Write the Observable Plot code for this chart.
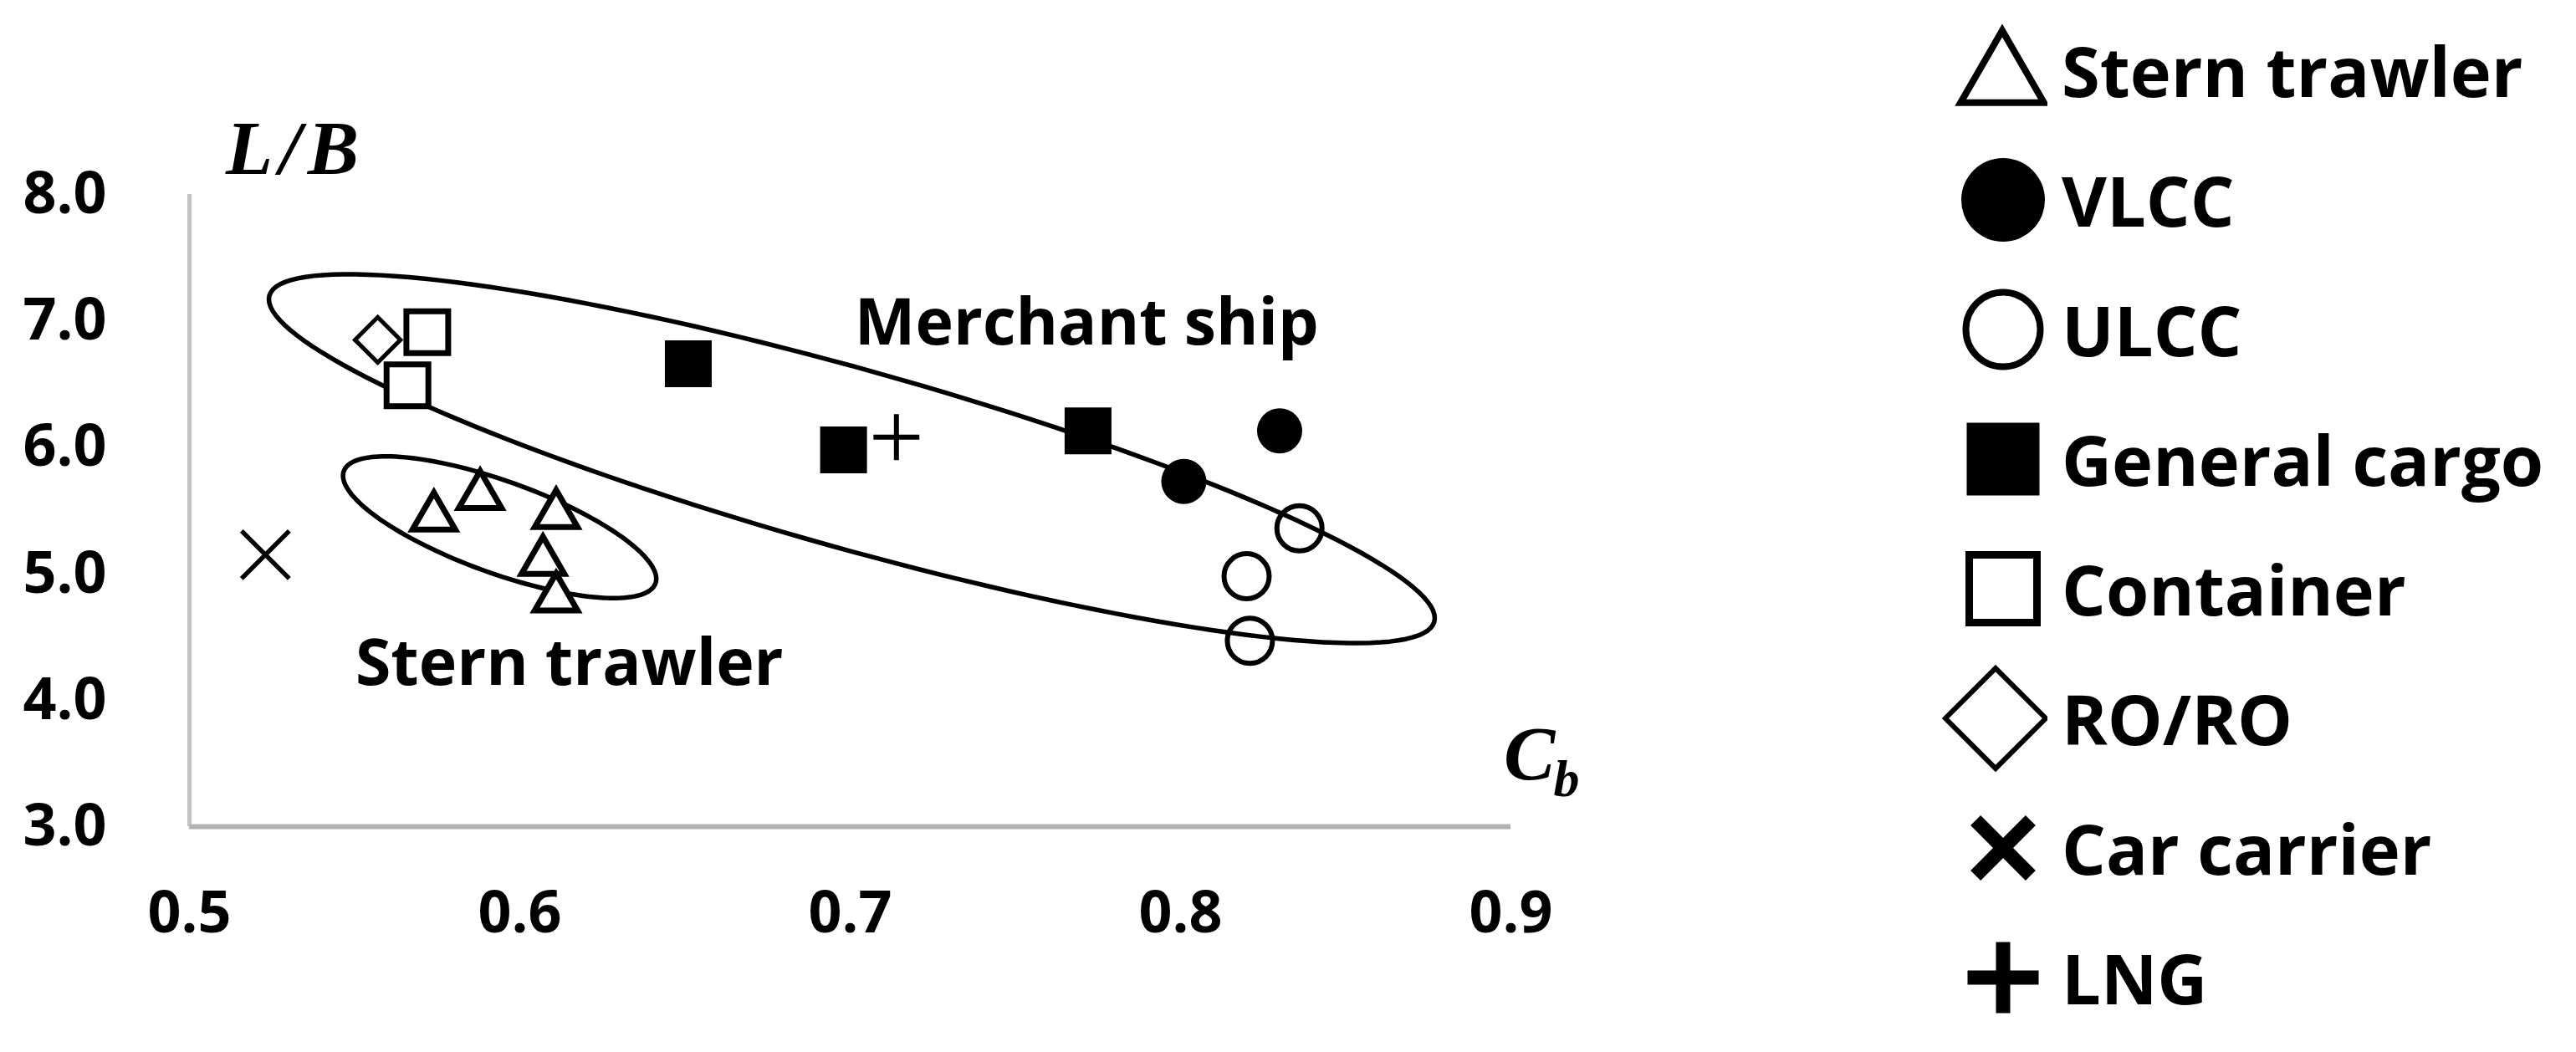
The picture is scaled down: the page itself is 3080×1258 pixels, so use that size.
<!DOCTYPE html>
<html>
<head>
<meta charset="utf-8">
<script src="https://cdn.jsdelivr.net/npm/d3@7"></script>
<script src="https://cdn.jsdelivr.net/npm/@observablehq/plot@0.6"></script>
<style>
  html, body { margin: 0; padding: 0; background: #fff; }
  #wrap { position: relative; width: 3080px; height: 1258px; background: #fff; font-family: "Open Sans", sans-serif; }
  #chart { position: absolute; left: 0; top: 0; }
  #legend { position: absolute; left: 2318px; top: 6px; }
  .row { height: 155px; display: flex; align-items: center; }
  .row svg { width: 130px; height: 130px; flex: none; }
  .row span { margin-left: 17px; font-size: 83px; font-weight: 700; color: #000; line-height: 1; white-space: nowrap; }
</style>
</head>
<body>
<div id="wrap"><div id="chart"></div><div id="legend"></div></div>
<script>
// ---------- data ----------
const xTicks = [0.5, 0.6, 0.7, 0.8, 0.9];
const yTicks = [3, 4, 5, 6, 7, 8];

const sternTrawlerCb = [0.574, 0.588, 0.611, 0.607, 0.611];
const sternTrawlerLB = [5.50, 5.67, 5.52, 5.15, 4.86];
const vlccCb = [0.801, 0.830];
const vlccLB = [5.73, 6.13];
const ulccCb = [0.836, 0.820, 0.821];
const ulccLB = [5.36, 4.98, 4.47];
const generalCargoCb = [0.651, 0.698, 0.772];
const generalCargoLB = [6.66, 5.98, 6.13];
const containerCb = [0.572, 0.566];
const containerLB = [6.91, 6.49];
const roroCb = [0.557];
const roroLB = [6.85];
const carCarrierCb = [0.523];
const carCarrierLB = [5.15];
const lngCb = [0.714];
const lngLB = [6.08];

// group ellipses: centre, major half-axis vector, minor half-axis vector (data units)
const groupNames = ["Merchant ship", "Stern trawler"];
const groupCenterCb = [0.7005, 0.5939];
const groupCenterLB = [5.910, 5.368];
const groupMajorCb = [0.1763, 0.04717];
const groupMajorLB = [-1.290, -0.4438];
const groupMinorCb = [-0.00732, -0.00472];
const groupMinorLB = [-0.681, -0.3426];
const groupLabelCb = [0.7716, 0.615];
const groupLabelLB = [6.975, 4.283];

const legendNames = ["Stern trawler", "VLCC", "ULCC", "General cargo", "Container", "RO/RO", "Car carrier", "LNG"];

// ---------- build tables ----------
const rows = (cb, lb) => cb.map((v, i) => ({cb: v, lb: lb[i]}));
const ellipsePts = [];
groupNames.forEach((name, g) => {
  const n = 160;
  for (let k = 0; k < n; k++) {
    const t = 2 * Math.PI * k / n;
    ellipsePts.push({
      name,
      cb: groupCenterCb[g] + groupMajorCb[g] * Math.cos(t) + groupMinorCb[g] * Math.sin(t),
      lb: groupCenterLB[g] + groupMajorLB[g] * Math.cos(t) + groupMinorLB[g] * Math.sin(t)
    });
  }
});
const groupLabels = groupNames.map((t, i) => ({text: t, cb: groupLabelCb[i], lb: groupLabelLB[i]}));

const fmt = d3.format(".1f");
const plot = Plot.plot({
  width: 2300,
  height: 1258,
  marginLeft: 226,
  marginRight: 494,
  marginTop: 232,
  marginBottom: 270,
  style: {fontFamily: "'Open Sans', sans-serif", color: "#000", background: "transparent"},
  x: {domain: [0.5, 0.9]},
  y: {domain: [3, 8]},
  marks: [
    Plot.ruleX([0.5], {stroke: "#c2c2c2", strokeWidth: 5}),
    Plot.ruleY([3], {stroke: "#b3b3b3", strokeWidth: 6}),
    Plot.axisX({ticks: xTicks, tickSize: 0, tickPadding: 77, tickFormat: fmt, fontSize: 70, fontWeight: 700, label: null}),
    Plot.axisY({ticks: yTicks, tickSize: 0, tickPadding: 99, tickFormat: fmt, fontSize: 70, fontWeight: 700, label: null}),
    Plot.line(ellipsePts, {x: "cb", y: "lb", z: "name", curve: "linear-closed", stroke: "#000", strokeWidth: 5.5}),
    Plot.dot(rows(sternTrawlerCb, sternTrawlerLB), {x: "cb", y: "lb", symbol: "triangle", r: 19, dy: 8, fill: "#fff", stroke: "#000", strokeWidth: 7}),
    Plot.dot(rows(containerCb, containerLB), {x: "cb", y: "lb", symbol: "square", r: 28.2, fill: "#fff", stroke: "#000", strokeWidth: 7}),
    Plot.dot(rows(roroCb, roroLB), {x: "cb", y: "lb", symbol: "diamond2", r: 24.5, fill: "#fff", stroke: "#000", strokeWidth: 5}),
    Plot.dot(rows(carCarrierCb, carCarrierLB), {x: "cb", y: "lb", symbol: "times", r: 26, stroke: "#000", strokeWidth: 5.5}),
    Plot.dot(rows(generalCargoCb, generalCargoLB), {x: "cb", y: "lb", symbol: "square", r: 31.6, fill: "#000", stroke: "none"}),
    Plot.dot(rows(lngCb, lngLB), {x: "cb", y: "lb", symbol: "plus", r: 17.7, stroke: "#000", strokeWidth: 6}),
    Plot.dot(rows(vlccCb, vlccLB), {x: "cb", y: "lb", symbol: "circle", r: 27, fill: "#000", stroke: "none"}),
    Plot.dot(rows(ulccCb, ulccLB), {x: "cb", y: "lb", symbol: "circle", r: 27, fill: "none", stroke: "#000", strokeWidth: 6}),
    Plot.text(groupLabels, {x: "cb", y: "lb", text: "text", fontSize: 77, fontWeight: 700, fill: "#000"})
  ]
});
document.getElementById("chart").appendChild(plot);

// axis titles (math italic) placed with the plot's scales
const sx = plot.scale("x"), sy = plot.scale("y");
const svg = d3.select(plot);
svg.append("text")
  .attr("x", sx.apply(0.5) + 44).attr("y", sy.apply(8) - 24)
  .attr("text-anchor", "start")
  .attr("font-family", "'Liberation Serif', 'DejaVu Serif', serif")
  .attr("font-style", "italic").attr("font-weight", 700).attr("font-size", 92)
  .attr("letter-spacing", 8).attr("fill", "#000")
  .text("L/B");
const cb = svg.append("text")
  .attr("x", sx.apply(0.9) - 8).attr("y", sy.apply(3) - 56)
  .attr("text-anchor", "start")
  .attr("font-family", "'Liberation Serif', 'DejaVu Serif', serif")
  .attr("font-style", "italic").attr("font-weight", 700).attr("font-size", 92)
  .attr("fill", "#000");
cb.append("tspan").text("C");
cb.append("tspan").attr("font-size", 62).attr("dx", -2).attr("dy", 20).text("b");

// legend
const legendStyle = [
  {type: d3.symbolTriangle, size: Math.PI * 37 * 37, fill: "#fff", stroke: "#000", sw: 8, cx: 76, dy: 10},
  {type: d3.symbolCircle, size: Math.PI * 50 * 50, fill: "#000", stroke: "none", sw: 0, cx: 77, dy: 0},
  {type: d3.symbolCircle, size: Math.PI * 44.5 * 44.5, fill: "#fff", stroke: "#000", sw: 8, cx: 77, dy: 0},
  {type: d3.symbolSquare, size: 87 * 87, fill: "#000", stroke: "none", sw: 0, cx: 77, dy: 0},
  {type: d3.symbolSquare, size: 81 * 81, fill: "#fff", stroke: "#000", sw: 9, cx: 77, dy: 0},
  {type: d3.symbolDiamond2, size: 9178, fill: "#fff", stroke: "#000", sw: 6, cx: 68, dy: 0},
  {type: d3.symbolTimes, size: Math.PI * 30 * 30, fill: "none", stroke: "#000", sw: 17, cx: 77, dy: 0},
  {type: d3.symbolPlus, size: Math.PI * 27.4 * 27.4, fill: "none", stroke: "#000", sw: 17, cx: 77, dy: 0}
];
const legend = d3.select("#legend");
legendNames.forEach((name, i) => {
  const st = legendStyle[i];
  const row = legend.append("div").attr("class", "row");
  const s = row.append("svg").attr("viewBox", "0 0 130 130");
  s.append("path")
    .attr("transform", `translate(${st.cx},${65 + st.dy})`)
    .attr("d", d3.symbol().type(st.type).size(st.size)())
    .attr("fill", st.fill).attr("stroke", st.stroke).attr("stroke-width", st.sw);
  row.append("span").text(name);
});
</script>
</body>
</html>
